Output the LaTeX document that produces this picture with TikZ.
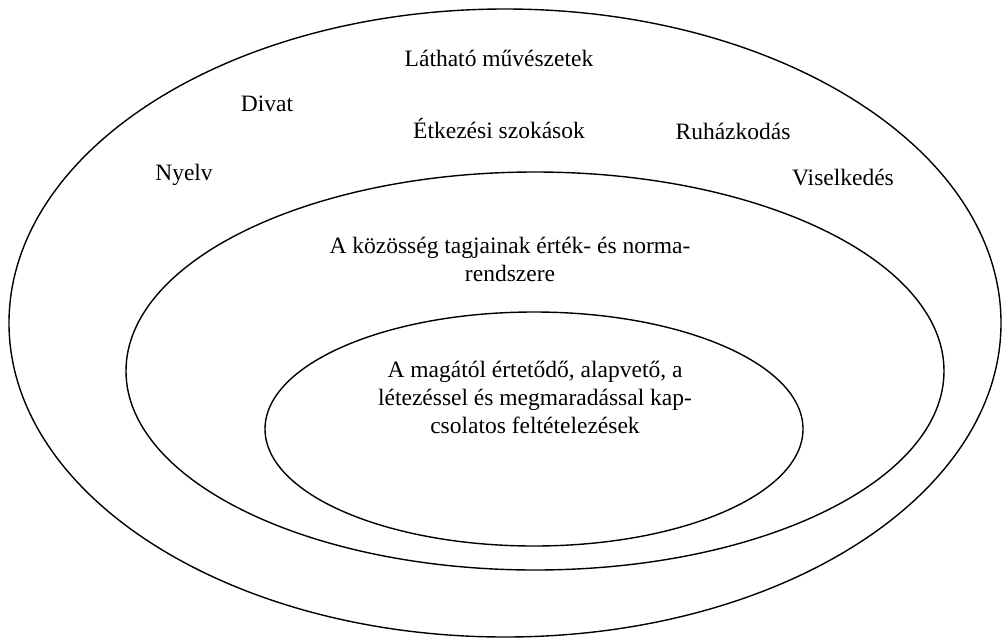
\documentclass[tikz,border=0pt]{standalone}
\usepackage{fontspec}
\setmainfont{Liberation Serif}
\begin{document}
\begin{tikzpicture}[x=1pt,y=-1pt,
  ring/.style={draw=black,line width=1.4pt},
  lbl/.style={font=\fontsize{23.5}{28}\selectfont,inner sep=0pt,align=center}]
\useasboundingbox (0,0) rectangle (1003,640);
\draw[ring] (505,323) ellipse [x radius=496,y radius=314];
\draw[ring] (535,371) ellipse [x radius=409,y radius=199];
\draw[ring] (534,429) ellipse [x radius=269,y radius=117];
\node[lbl] (lat) at (499,58) {Látható művészetek};
\node[lbl] (div) at (267,104) {Divat};
\node[lbl] (etk) at (499,129) {Étkezési szokások};
\node[lbl] (ruh) at (733,131) {Ruházkodás};
\node[lbl] (nye) at (184,175) {Nyelv};
\node[lbl] (vis) at (843,178) {Viselkedés};
\node[lbl] (mid) at (510,259) {A közösség tagjainak érték- és norma-\\rendszere};
\node[lbl] (inn) at (535,397) {A magától értetődő, alapvető, a\\létezéssel és megmaradással kap-\\csolatos feltételezések};
\end{tikzpicture}
\end{document}
